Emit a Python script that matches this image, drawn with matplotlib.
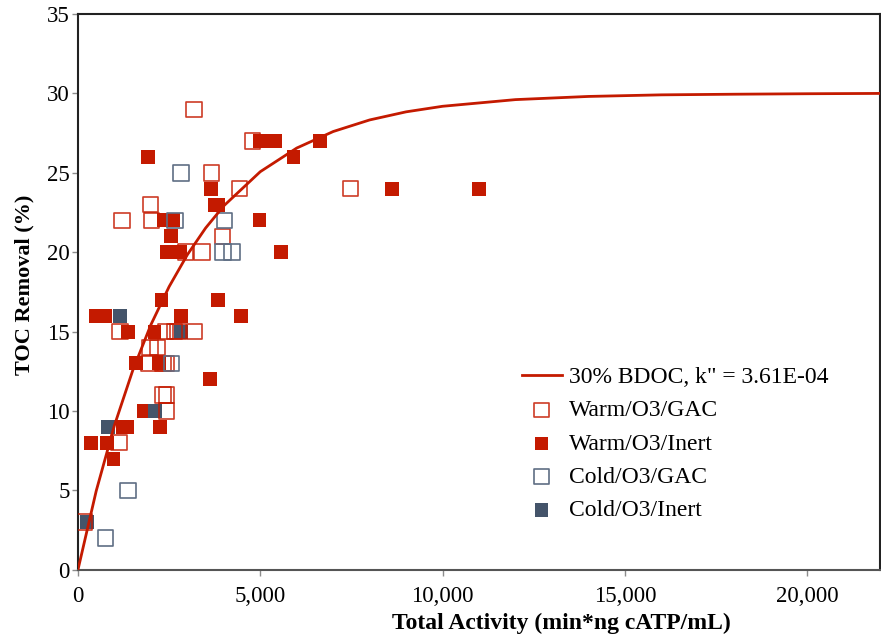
import matplotlib.pyplot as plt
from matplotlib.ticker import FuncFormatter, MultipleLocator

RED = "#C41A00"
SLATE = "#44546A"
SLATE_EDGE = "#5F6E84"

# Model curve: 30% BDOC, k" = 3.61E-04
curve_x = [0, 500, 1000, 1500, 2000, 2500, 3000, 3500, 4000, 5000, 6000,
           7000, 8000, 9000, 10000, 12000, 14000, 16000, 18000, 20000, 22000]
curve_y = [0, 4.96, 9.09, 12.54, 15.43, 17.83, 19.84, 21.52, 22.92, 25.07,
           26.56, 27.60, 28.33, 28.84, 29.19, 29.61, 29.81, 29.91, 29.95,
           29.98, 30.0]

warm_gac_x = [3180, 4790, 3660, 4435, 7480, 1995, 1210, 2020, 3970, 2950,
              3400, 1970, 2180, 1950, 2330, 2420, 1160, 2400, 2650, 2750,
              3200, 2330, 2430, 2430, 1120, 173]
warm_gac_y = [29, 27, 25, 24, 24, 23, 22, 22, 21, 20,
              20, 14, 14, 13, 13, 13, 15, 15, 15, 15,
              15, 11, 11, 10, 8, 3]

warm_inert_x = [1930, 5910, 4980, 5180, 5400, 6640, 3660, 8620, 11010, 3760,
                3850, 2370, 2610, 4980, 2560, 2430, 2810, 5570, 2290, 3850,
                480, 755, 2830, 4470, 1360, 2100, 1585, 2230, 3630, 1820,
                1230, 1350, 2240, 355, 785, 975]
warm_inert_y = [26, 26, 27, 27, 27, 27, 24, 24, 24, 23,
                23, 22, 22, 22, 21, 20, 20, 20, 17, 17,
                16, 16, 16, 16, 15, 15, 13, 13, 12, 10,
                9, 9, 9, 8, 8, 7]

cold_gac_x = [2830, 2660, 4020, 3980, 4230, 2560, 1375, 757]
cold_gac_y = [25, 22, 22, 20, 20, 13, 5, 2]

cold_inert_x = [1150, 2830, 2110, 835, 237]
cold_inert_y = [16, 15, 10, 9, 3]

plt.rcParams["font.family"] = ["Liberation Serif", "DejaVu Serif"]

fig = plt.figure(figsize=(8.81, 6.38), dpi=100)
ax = fig.add_axes([0.0885, 0.107, 0.9105, 0.871])

ax.scatter(warm_gac_x, warm_gac_y, s=125, marker="s", facecolors="none",
           edgecolors=RED, linewidths=1.2, alpha=0.85, label="Warm/O3/GAC",
           zorder=3)
ax.scatter(warm_inert_x, warm_inert_y, s=100, marker="s", color=RED,
           edgecolors="none", label="Warm/O3/Inert", zorder=2)
ax.scatter(cold_gac_x, cold_gac_y, s=125, marker="s", facecolors="none",
           edgecolors=SLATE_EDGE, linewidths=1.2, label="Cold/O3/GAC",
           zorder=3)
ax.scatter(cold_inert_x, cold_inert_y, s=100, marker="s", color=SLATE,
           edgecolors="none", label="Cold/O3/Inert", zorder=2)
ax.plot(curve_x, curve_y, color=RED, lw=2.0, zorder=4,
        label='30% BDOC, k" = 3.61E-04')

ax.set_xlim(0, 22000)
ax.set_ylim(0, 35)
ax.xaxis.set_major_locator(MultipleLocator(5000))
ax.yaxis.set_major_locator(MultipleLocator(5))
ax.xaxis.set_major_formatter(FuncFormatter(lambda v, p: f"{int(v):,}"))

ax.tick_params(axis="both", direction="out", length=4.5, width=1,
               color="#8C8C8C", labelsize=16.5)
ax.tick_params(axis="x", pad=7)
ax.tick_params(axis="y", pad=1.5)

for side in ["left", "top", "right"]:
    ax.spines[side].set_color("#222222")
    ax.spines[side].set_linewidth(1.5)
ax.spines["bottom"].set_color("#555555")
ax.spines["bottom"].set_linewidth(1.5)

ax.set_xlabel("Total Activity (min*ng cATP/mL)", fontsize=17,
              fontweight="bold")
ax.set_ylabel("TOC Removal (%)", fontsize=16, fontweight="bold")
ax.xaxis.set_label_coords(0.603, -0.077)
ax.yaxis.set_label_coords(-0.054, 0.513)

handles, labels = ax.get_legend_handles_labels()
order = [4, 0, 1, 2, 3]
ax.legend([handles[i] for i in order], [labels[i] for i in order],
          loc="upper left", bbox_to_anchor=(0.553, 0.366), frameon=False,
          fontsize=17, handlelength=1.7, handletextpad=0.3,
          labelspacing=0.5, borderaxespad=0, borderpad=0, markerscale=0.95)

fig.savefig("out.png", dpi=100)
